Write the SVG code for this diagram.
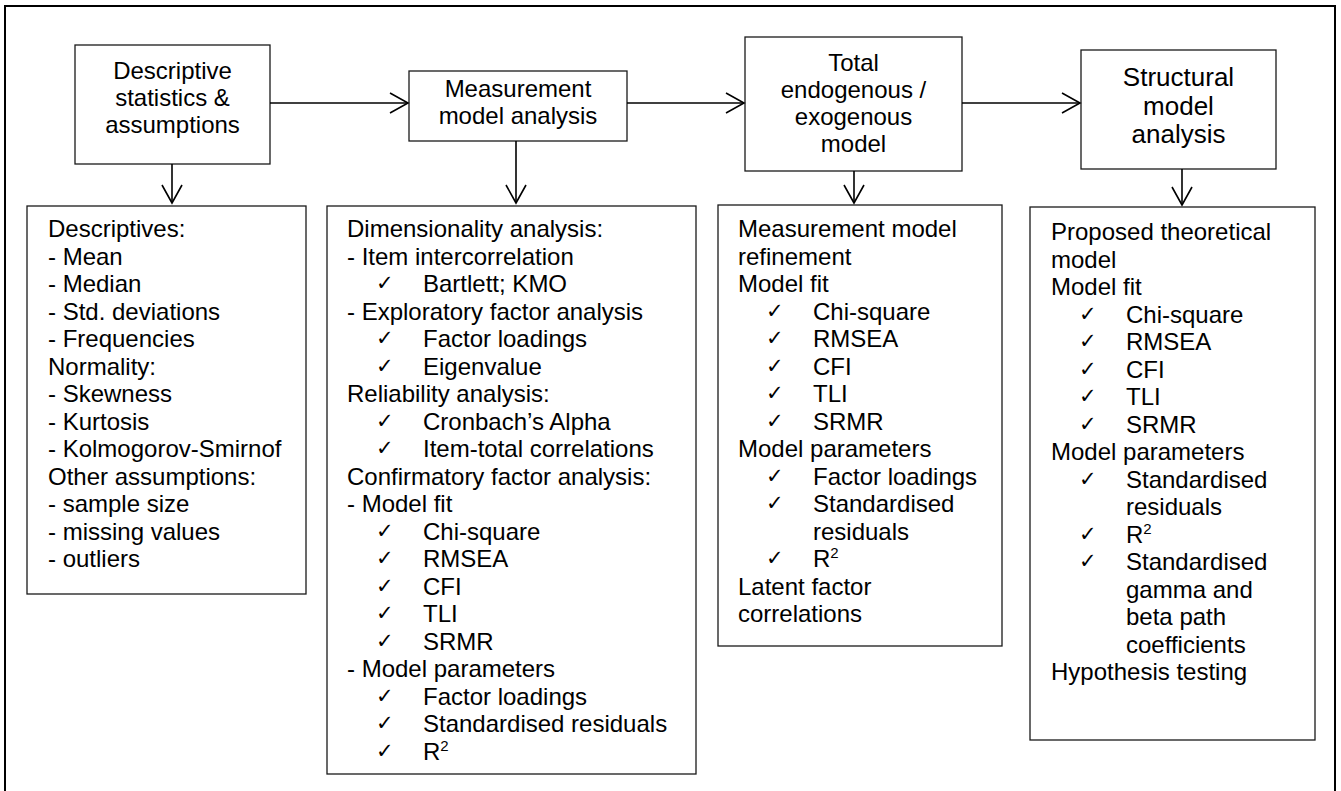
<svg xmlns="http://www.w3.org/2000/svg" width="1341" height="791" viewBox="0 0 1341 791">
  <style>
    .frame { fill: none; stroke: #000; stroke-width: 2; }
    .box { fill: #fff; stroke: #1a1a1a; stroke-width: 1.3; }
    .t { font-family: "Liberation Sans", Arial, Helvetica, sans-serif; font-size: 24px; fill: #000; }
    .big { font-size: 26px; }
    .c { text-anchor: middle; }
    .ck { font-family: "DejaVu Sans", sans-serif; font-size: 21px; fill: #000; }
    .sup { font-size: 15px; }
    .conn line { stroke: #000; stroke-width: 1.6; fill: none; marker-end: url(#arr); }
  </style>
  <defs>
    <marker id="arr" markerUnits="userSpaceOnUse" markerWidth="22" markerHeight="24" viewBox="0 0 22 24" refX="20" refY="12" orient="auto">
      <path d="M2,2 L20,12 L2,22" fill="none" stroke="#000" stroke-width="1.6"/>
    </marker>
  </defs>
  <rect width="1341" height="791" fill="#fff"/>
  <rect class="frame" x="5" y="6" width="1330" height="800"/>

  <!-- process steps -->
  <g id="step-descriptive">
    <rect class="box" x="75" y="45" width="195" height="119"/>
    <text class="t c" x="172.5" y="79">Descriptive</text>
    <text class="t c" x="172.5" y="106">statistics &amp;</text>
    <text class="t c" x="172.5" y="133">assumptions</text>
  </g>
  <g id="step-measurement">
    <rect class="box" x="409" y="71" width="218" height="70"/>
    <text class="t c" x="518" y="97">Measurement</text>
    <text class="t c" x="518" y="124">model analysis</text>
  </g>
  <g id="step-total">
    <rect class="box" x="745" y="37" width="217" height="134"/>
    <text class="t c" x="853.5" y="71">Total</text>
    <text class="t c" x="853.5" y="98">endogenous /</text>
    <text class="t c" x="853.5" y="125">exogenous</text>
    <text class="t c" x="853.5" y="152">model</text>
  </g>
  <g id="step-structural">
    <rect class="box" x="1081" y="50" width="195" height="119"/>
    <text class="t big c" x="1178.5" y="86">Structural</text>
    <text class="t big c" x="1178.5" y="114.5">model</text>
    <text class="t big c" x="1178.5" y="143">analysis</text>
  </g>

  <!-- detail lists -->
  <g id="list-descriptive">
    <rect class="box" x="27" y="206" width="279" height="388"/>
    <text class="t" x="48" y="237">Descriptives:</text>
    <text class="t" x="48" y="264.5">- Mean</text>
    <text class="t" x="48" y="292">- Median</text>
    <text class="t" x="48" y="319.5">- Std. deviations</text>
    <text class="t" x="48" y="347">- Frequencies</text>
    <text class="t" x="48" y="374.5">Normality:</text>
    <text class="t" x="48" y="402">- Skewness</text>
    <text class="t" x="48" y="429.5">- Kurtosis</text>
    <text class="t" x="48" y="457">- Kolmogorov-Smirnof</text>
    <text class="t" x="48" y="484.5">Other assumptions:</text>
    <text class="t" x="48" y="512">- sample size</text>
    <text class="t" x="48" y="539.5">- missing values</text>
    <text class="t" x="48" y="567">- outliers</text>
  </g>

  <g id="list-measurement">
    <rect class="box" x="327" y="206" width="369" height="568"/>
    <text class="t" x="347" y="237">Dimensionality analysis:</text>
    <text class="t" x="347" y="264.5">- Item intercorrelation</text>
    <text class="ck" x="376" y="290">✓</text><text class="t" x="423" y="292">Bartlett; KMO</text>
    <text class="t" x="347" y="319.5">- Exploratory factor analysis</text>
    <text class="ck" x="376" y="345">✓</text><text class="t" x="423" y="347">Factor loadings</text>
    <text class="ck" x="376" y="372.5">✓</text><text class="t" x="423" y="374.5">Eigenvalue</text>
    <text class="t" x="347" y="402">Reliability analysis:</text>
    <text class="ck" x="376" y="427.5">✓</text><text class="t" x="423" y="429.5">Cronbach’s Alpha</text>
    <text class="ck" x="376" y="455">✓</text><text class="t" x="423" y="457">Item-total correlations</text>
    <text class="t" x="347" y="484.5">Confirmatory factor analysis:</text>
    <text class="t" x="347" y="512">- Model fit</text>
    <text class="ck" x="376" y="537.5">✓</text><text class="t" x="423" y="539.5">Chi-square</text>
    <text class="ck" x="376" y="565">✓</text><text class="t" x="423" y="567">RMSEA</text>
    <text class="ck" x="376" y="592.5">✓</text><text class="t" x="423" y="594.5">CFI</text>
    <text class="ck" x="376" y="620">✓</text><text class="t" x="423" y="622">TLI</text>
    <text class="ck" x="376" y="647.5">✓</text><text class="t" x="423" y="649.5">SRMR</text>
    <text class="t" x="347" y="677">- Model parameters</text>
    <text class="ck" x="376" y="702.5">✓</text><text class="t" x="423" y="704.5">Factor loadings</text>
    <text class="ck" x="376" y="730">✓</text><text class="t" x="423" y="732">Standardised residuals</text>
    <text class="ck" x="376" y="757.5">✓</text><text class="t" x="423" y="759.5">R<tspan class="sup" dy="-9">2</tspan></text>
  </g>

  <g id="list-total">
    <rect class="box" x="718" y="205" width="284" height="441"/>
    <text class="t" x="738" y="237">Measurement model</text>
    <text class="t" x="738" y="264.5">refinement</text>
    <text class="t" x="738" y="292">Model fit</text>
    <text class="ck" x="766" y="317.5">✓</text><text class="t" x="813" y="319.5">Chi-square</text>
    <text class="ck" x="766" y="345">✓</text><text class="t" x="813" y="347">RMSEA</text>
    <text class="ck" x="766" y="372.5">✓</text><text class="t" x="813" y="374.5">CFI</text>
    <text class="ck" x="766" y="400">✓</text><text class="t" x="813" y="402">TLI</text>
    <text class="ck" x="766" y="427.5">✓</text><text class="t" x="813" y="429.5">SRMR</text>
    <text class="t" x="738" y="457">Model parameters</text>
    <text class="ck" x="766" y="482.5">✓</text><text class="t" x="813" y="484.5">Factor loadings</text>
    <text class="ck" x="766" y="510">✓</text><text class="t" x="813" y="512">Standardised</text>
    <text class="t" x="813" y="539.5">residuals</text>
    <text class="ck" x="766" y="565">✓</text><text class="t" x="813" y="567">R<tspan class="sup" dy="-9">2</tspan></text>
    <text class="t" x="738" y="594.5">Latent factor</text>
    <text class="t" x="738" y="622">correlations</text>
  </g>

  <g id="list-structural">
    <rect class="box" x="1030" y="207" width="285" height="533"/>
    <text class="t" x="1051" y="240">Proposed theoretical</text>
    <text class="t" x="1051" y="267.5">model</text>
    <text class="t" x="1051" y="295">Model fit</text>
    <text class="ck" x="1079" y="320.5">✓</text><text class="t" x="1126" y="322.5">Chi-square</text>
    <text class="ck" x="1079" y="348">✓</text><text class="t" x="1126" y="350">RMSEA</text>
    <text class="ck" x="1079" y="375.5">✓</text><text class="t" x="1126" y="377.5">CFI</text>
    <text class="ck" x="1079" y="403">✓</text><text class="t" x="1126" y="405">TLI</text>
    <text class="ck" x="1079" y="430.5">✓</text><text class="t" x="1126" y="432.5">SRMR</text>
    <text class="t" x="1051" y="460">Model parameters</text>
    <text class="ck" x="1079" y="485.5">✓</text><text class="t" x="1126" y="487.5">Standardised</text>
    <text class="t" x="1126" y="515">residuals</text>
    <text class="ck" x="1079" y="540.5">✓</text><text class="t" x="1126" y="542.5">R<tspan class="sup" dy="-9">2</tspan></text>
    <text class="ck" x="1079" y="568">✓</text><text class="t" x="1126" y="570">Standardised</text>
    <text class="t" x="1126" y="597.5">gamma and</text>
    <text class="t" x="1126" y="625">beta path</text>
    <text class="t" x="1126" y="652.5">coefficients</text>
    <text class="t" x="1051" y="680">Hypothesis testing</text>
  </g>

  <!-- connectors -->
  <g id="connectors" class="conn">
    <line x1="270" y1="103" x2="408" y2="103"/>
    <line x1="627" y1="103" x2="744" y2="103"/>
    <line x1="962" y1="103" x2="1080" y2="103"/>
    <line x1="172" y1="164" x2="172" y2="203"/>
    <line x1="516" y1="141" x2="516" y2="203"/>
    <line x1="854" y1="171" x2="854" y2="203"/>
    <line x1="1182" y1="169" x2="1182" y2="205"/>
  </g>
</svg>
